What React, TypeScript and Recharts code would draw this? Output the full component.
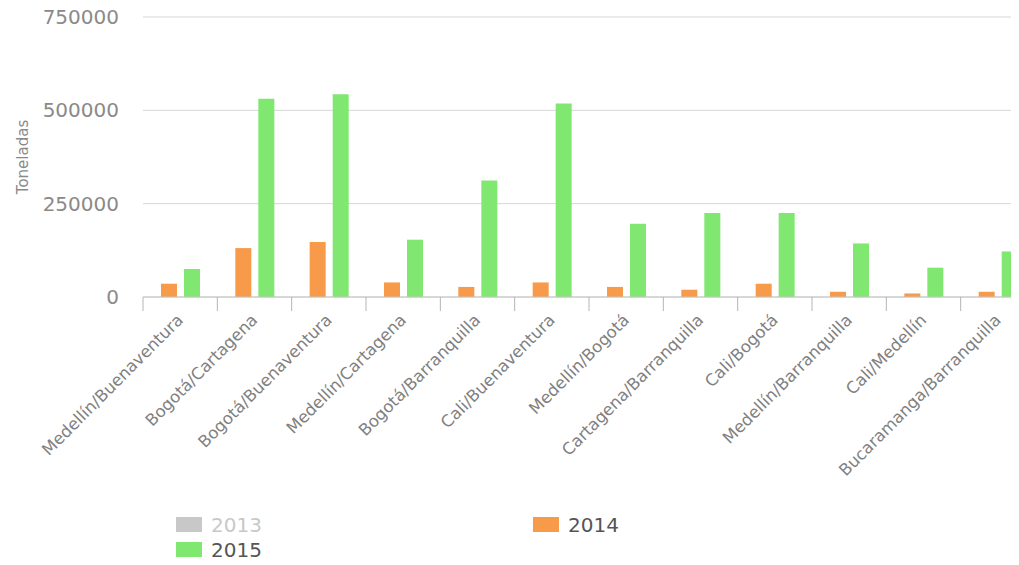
import React from "react";
import { BarChart, Bar, XAxis, YAxis, CartesianGrid } from "recharts";

const routes = [
  "Medellín/Buenaventura",
  "Bogotá/Cartagena",
  "Bogotá/Buenaventura",
  "Medellín/Cartagena",
  "Bogotá/Barranquilla",
  "Cali/Buenaventura",
  "Medellín/Bogotá",
  "Cartagena/Barranquilla",
  "Cali/Bogotá",
  "Medellín/Barranquilla",
  "Cali/Medellín",
  "Bucaramanga/Barranquilla",
];

const tons2014 = [35600, 131000, 147000, 39000, 27000, 39000, 27000, 19500, 35600, 14000, 9500, 14000];
const tons2015 = [75000, 531000, 543000, 153500, 312000, 518500, 196000, 225000, 225000, 143500, 78500, 122000];

const yTicks = [0, 250000, 500000, 750000];

const seriesInfo = [
  { name: "2013", color: "#c8c8c8", hidden: true },
  { name: "2014", color: "#f79a4a", hidden: false },
  { name: "2015", color: "#80e870", hidden: false },
];

const data = routes.map((route, i) => ({
  route,
  y2014: tons2014[i],
  y2015: tons2015[i],
}));

const FONT = "'DejaVu Sans', sans-serif";
const CHART_W = 1040;
const CHART_H = 565;
const PLOT_LEFT = 143;
const PLOT_RIGHT_MARGIN = 5;
const BAND = (CHART_W - PLOT_LEFT - PLOT_RIGHT_MARGIN) / routes.length;

// tick marks sit between categories, labels hang at -45°
function RouteTick(props: any) {
  const { x, y, payload } = props;
  return (
    <g>
      <line x1={x - BAND / 2} y1={y} x2={x - BAND / 2} y2={y + 14} stroke="#b5b5b5" />
      <text
        x={x + 4}
        y={y + 24}
        textAnchor="end"
        fontSize={16.5}
        fontFamily={FONT}
        fill="#808080"
        transform={`rotate(-45 ${x + 4} ${y + 24})`}
      >
        {payload.value}
      </text>
    </g>
  );
}

function LegendBox({ name, color, hidden }: { name: string; color: string; hidden: boolean }) {
  return (
    <div style={{ display: "flex", alignItems: "center", height: 25 }}>
      <span style={{ width: 26, height: 15, background: color, display: "inline-block" }} />
      <span style={{ marginLeft: 9, fontSize: 20, color: hidden ? "#c8c8c8" : "#555" }}>{name}</span>
    </div>
  );
}

export default function App() {
  return (
    <div
      style={{
        position: "relative",
        margin: "-8px 0 0 -8px",
        width: 1019,
        height: 565,
        overflow: "hidden",
        background: "#fff",
        fontFamily: FONT,
      }}
    >
      <BarChart
        width={CHART_W}
        height={CHART_H}
        data={data}
        margin={{ top: 17, right: PLOT_RIGHT_MARGIN, bottom: 0, left: 0 }}
        barGap={7}
        barSize={16}
      >
        <CartesianGrid vertical={false} stroke="#d6d6d6" />
        <XAxis
          dataKey="route"
          interval={0}
          height={268}
          tickSize={0}
          tickMargin={0}
          tickLine={false}
          axisLine={{ stroke: "#c4c4c4" }}
          tick={<RouteTick />}
        />
        <YAxis
          width={PLOT_LEFT}
          domain={[0, 750000]}
          ticks={yTicks}
          tickSize={0}
          tickMargin={24}
          axisLine={false}
          tickLine={false}
          tick={{ fontSize: 20, fill: "#8a8a8a", fontFamily: FONT }}
          label={{
            content: (p: any) => {
              const vb = p.viewBox || { x: 0, y: 17, height: 280 };
              const cx = vb.x + 23;
              const cy = vb.y + vb.height / 2;
              return (
                <text
                  x={cx}
                  y={cy}
                  textAnchor="middle"
                  dominantBaseline="central"
                  fontSize={15}
                  fontFamily={FONT}
                  fill="#8a8a8a"
                  transform={`rotate(-90 ${cx} ${cy})`}
                >
                  Toneladas
                </text>
              );
            },
          }}
        />
        <Bar dataKey="y2014" name="2014" fill={seriesInfo[1].color} isAnimationActive={false} />
        <Bar dataKey="y2015" name="2015" fill={seriesInfo[2].color} isAnimationActive={false} />
      </BarChart>
      <div style={{ position: "absolute", left: 176, top: 512 }}>
        <LegendBox {...seriesInfo[0]} />
        <LegendBox {...seriesInfo[2]} />
      </div>
      <div style={{ position: "absolute", left: 533, top: 512 }}>
        <LegendBox {...seriesInfo[1]} />
      </div>
    </div>
  );
}
